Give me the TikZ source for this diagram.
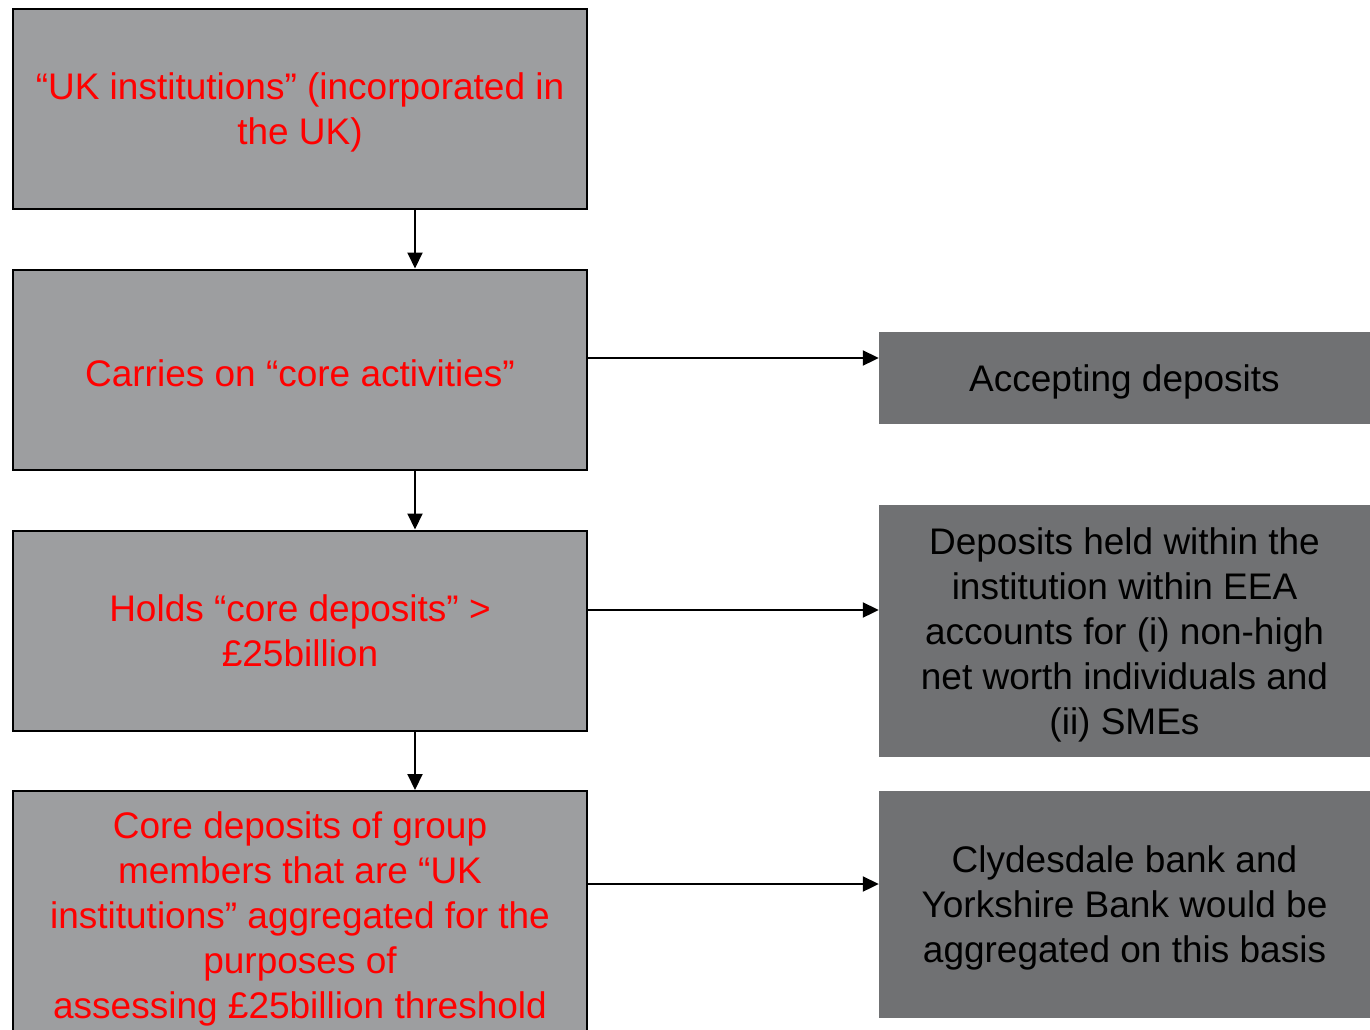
\documentclass[tikz,border=0pt]{standalone}
\usepackage{fontspec}
\setmainfont{Liberation Sans}
\usetikzlibrary{arrows.meta}
\definecolor{boxgrey}{HTML}{9D9EA0}
\definecolor{notegrey}{HTML}{707173}
\tikzset{
    boxtext/.style={inner sep=0pt,align=center,
        font=\fontsize{37pt}{45pt}\selectfont},
    oneline/.style={text height=35pt},
    lines/.style={text depth=0pt},
    stepbox/.style={boxtext,draw=black,line width=2pt,fill=boxgrey,text=red,
        minimum width=574pt,minimum height=200pt},
    notebox/.style={boxtext,fill=notegrey,text=black,minimum width=491pt},
    link/.style={line width=2pt,-{Triangle[length=16pt,width=15pt]}}
}
\begin{document}
\begin{tikzpicture}[x=1pt,y=1pt]
    \useasboundingbox (0,0) rectangle (1370,-1029);
    \clip (0,0) rectangle (1370,-1029);

    % left column
    \node[stepbox,lines] (uk) at (300,-109) {“UK institutions” (incorporated in\\the UK)};
    \node[stepbox,oneline] (core) at (300,-369.5) {Carries on “core activities”};
    \node[stepbox,lines] (holds) at (300,-630.5) {Holds “core deposits” >\\£25billion};
    \node[stepbox,lines,minimum height=248pt] (group) at (300,-915)
        {Core deposits of group\\members that are “UK\\institutions” aggregated for the\\purposes of\\assessing £25billion threshold};

    % right column
    \node[notebox,oneline,minimum height=92pt] (accept) at (1124.5,-378) {Accepting deposits};
    \node[notebox,lines,minimum height=252pt] (eea) at (1124.5,-631)
        {Deposits held within the\\institution within EEA\\accounts for (i) non-high\\net worth individuals and\\(ii) SMEs};
    \node[notebox,lines,minimum height=227pt] (banks) at (1124.5,-904.5)
        {Clydesdale bank and\\Yorkshire Bank would be\\aggregated on this basis};

    % arrows
    \draw[link] ([xshift=115pt]uk.south) -- ([xshift=115pt]core.north);
    \draw[link] ([xshift=115pt]core.south) -- ([xshift=115pt]holds.north);
    \draw[link] ([xshift=115pt]holds.south) -- ([xshift=115pt]group.north);
    \draw[link] ([yshift=11.5pt]core.east) -- ([yshift=20pt]accept.west);
    \draw[link] ([yshift=20.5pt]holds.east) -- ([yshift=21pt]eea.west);
    \draw[link] ([yshift=31pt]group.east) -- ([yshift=20.5pt]banks.west);
\end{tikzpicture}
\end{document}
